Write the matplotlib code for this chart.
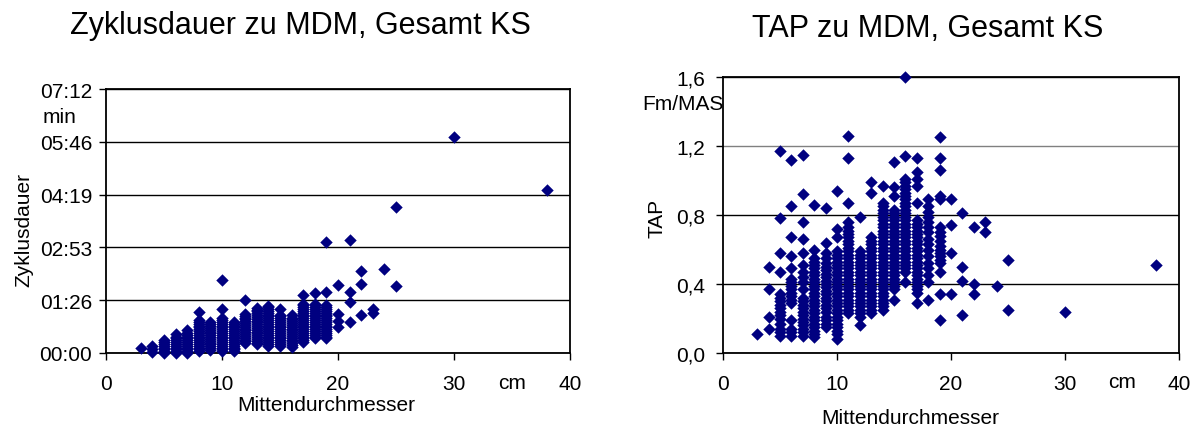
import matplotlib
matplotlib.use("Agg")
import matplotlib.pyplot as plt

plt.rcParams["font.family"] = ["Liberation Sans", "DejaVu Sans"]

# Mittendurchmesser (cm), one entry per column of points
mdm = [3, 4, 5, 6, 7, 8, 9, 10, 11, 12, 13, 14, 15, 16, 17, 18, 19, 20, 21, 22, 23, 24, 25, 30, 38]

# Zyklusdauer in seconds, per diameter
zyklus_sek = [
    [8],
    [2, 6, 11],
    [0, 3, 6, 9, 12, 15, 18, 22],
    [0, 3, 6, 9, 12, 15, 18, 21, 24, 27, 31],
    [0, 3, 6, 9, 12, 15, 18, 21, 24, 27, 30, 33, 37],
    [3, 6, 9, 12, 15, 18, 21, 24, 27, 30, 33, 36, 39, 42, 45, 48, 51, 54, 67],
    [5, 8, 11, 14, 17, 20, 23, 26, 29, 32, 35, 38, 41, 44, 47, 50],
    [3, 6, 9, 12, 15, 18, 21, 24, 27, 30, 33, 36, 39, 42, 45, 48, 51, 54, 57, 72, 120],
    [3, 6, 9, 12, 15, 18, 21, 24, 27, 30, 33, 36, 39, 42, 45, 48, 51],
    [16, 19, 22, 25, 28, 31, 34, 37, 40, 43, 46, 49, 52, 55, 58, 61, 64, 86],
    [14, 17, 20, 23, 26, 29, 32, 35, 38, 41, 44, 47, 50, 53, 56, 59, 62, 65, 68, 71, 74],
    [12, 15, 18, 21, 24, 27, 30, 33, 36, 39, 42, 45, 48, 51, 54, 57, 60, 63, 66, 69, 72, 75, 77],
    [12, 15, 18, 21, 24, 27, 30, 33, 36, 39, 42, 45, 48, 51, 54, 57, 60, 62, 72],
    [10, 13, 16, 19, 22, 25, 28, 31, 34, 37, 40, 43, 46, 49, 52, 55, 58, 62],
    [18, 21, 24, 27, 30, 33, 36, 39, 42, 45, 48, 51, 54, 57, 60, 63, 66, 69, 72, 75, 78, 80, 95],
    [24, 27, 30, 33, 36, 39, 42, 45, 48, 51, 54, 57, 60, 63, 66, 69, 72, 75, 78, 80, 98],
    [24, 27, 30, 33, 36, 39, 42, 45, 48, 51, 54, 57, 60, 63, 66, 69, 72, 75, 78, 100, 182],
    [43, 53, 64, 112],
    [50, 83, 100, 185],
    [62, 113, 135],
    [66, 72],
    [138],
    [109, 239],
    [353],
    [266],
]

# TAP (Fm/MAS), per diameter
tap_werte = [
    [0.11],
    [0.14, 0.21, 0.37, 0.50],
    [0.10, 0.12, 0.14, 0.17, 0.20, 0.22, 0.24, 0.26, 0.28, 0.30, 0.32, 0.34, 0.47, 0.58, 0.78, 1.17],
    [0.10, 0.12, 0.14, 0.19, 0.29, 0.31, 0.33, 0.35, 0.37, 0.39, 0.41, 0.43, 0.49, 0.56, 0.67, 0.85, 1.12],
    [0.10, 0.12, 0.14, 0.16, 0.18, 0.20, 0.22, 0.24, 0.26, 0.28, 0.30, 0.32, 0.37, 0.41, 0.44, 0.47,
     0.51, 0.58, 0.66, 0.76, 0.92, 1.15],
    [0.09, 0.11, 0.13, 0.15, 0.17, 0.19, 0.21, 0.23, 0.25, 0.27, 0.29, 0.31, 0.33, 0.35, 0.37, 0.39,
     0.41, 0.43, 0.45, 0.47, 0.49, 0.51, 0.53, 0.55, 0.60, 0.86],
    [0.15, 0.17, 0.19, 0.21, 0.24, 0.26, 0.28, 0.30, 0.32, 0.34, 0.36, 0.38, 0.40, 0.42, 0.44, 0.46,
     0.48, 0.50, 0.52, 0.55, 0.58, 0.64, 0.84],
    [0.08, 0.11, 0.13, 0.15, 0.17, 0.19, 0.21, 0.23, 0.25, 0.27, 0.29, 0.31, 0.33, 0.35, 0.37, 0.39,
     0.41, 0.43, 0.45, 0.47, 0.49, 0.51, 0.53, 0.55, 0.57, 0.59, 0.67, 0.72, 0.94],
    [0.23, 0.25, 0.27, 0.29, 0.31, 0.33, 0.35, 0.37, 0.39, 0.41, 0.43, 0.45, 0.47, 0.49, 0.51, 0.53,
     0.55, 0.57, 0.59, 0.61, 0.63, 0.65, 0.67, 0.69, 0.71, 0.73, 0.76, 0.87, 1.13, 1.26],
    [0.16, 0.21, 0.23, 0.25, 0.27, 0.29, 0.31, 0.33, 0.35, 0.37, 0.39, 0.41, 0.43, 0.45, 0.47, 0.49,
     0.51, 0.53, 0.55, 0.57, 0.59, 0.79],
    [0.23, 0.25, 0.27, 0.29, 0.31, 0.33, 0.35, 0.37, 0.39, 0.41, 0.43, 0.45, 0.47, 0.49, 0.51, 0.53,
     0.55, 0.57, 0.59, 0.61, 0.63, 0.65, 0.67, 0.93, 0.99],
    [0.25, 0.27, 0.29, 0.31, 0.33, 0.35, 0.37, 0.39, 0.41, 0.43, 0.45, 0.47, 0.49, 0.51, 0.53, 0.55,
     0.57, 0.59, 0.61, 0.63, 0.65, 0.67, 0.69, 0.71, 0.73, 0.75, 0.77, 0.79, 0.81, 0.83, 0.85, 0.87, 0.97],
    [0.31, 0.37, 0.39, 0.41, 0.43, 0.45, 0.47, 0.49, 0.51, 0.53, 0.55, 0.57, 0.59, 0.61, 0.63, 0.65,
     0.67, 0.69, 0.71, 0.73, 0.75, 0.77, 0.79, 0.81, 0.83, 0.91, 0.96, 1.11],
    [0.41, 0.47, 0.49, 0.51, 0.53, 0.55, 0.57, 0.59, 0.61, 0.63, 0.65, 0.67, 0.69, 0.71, 0.73, 0.75,
     0.77, 0.79, 0.81, 0.83, 0.85, 0.87, 0.89, 0.91, 0.93, 0.95, 0.97, 0.99, 1.01, 1.14, 1.60],
    [0.29, 0.35, 0.37, 0.39, 0.41, 0.43, 0.45, 0.47, 0.49, 0.51, 0.53, 0.55, 0.57, 0.59, 0.61, 0.63,
     0.65, 0.67, 0.69, 0.71, 0.73, 0.75, 0.77, 0.87, 0.97, 1.01, 1.05, 1.13],
    [0.31, 0.41, 0.45, 0.49, 0.52, 0.56, 0.60, 0.63, 0.66, 0.70, 0.73, 0.76, 0.79, 0.82, 0.85, 0.89],
    [0.19, 0.34, 0.47, 0.52, 0.54, 0.56, 0.58, 0.60, 0.62, 0.65, 0.68, 0.70, 0.73, 0.89, 0.91, 1.06,
     1.13, 1.25],
    [0.34, 0.58, 0.74, 0.89],
    [0.22, 0.42, 0.50, 0.81],
    [0.34, 0.40, 0.73],
    [0.70, 0.76],
    [0.39],
    [0.25, 0.54],
    [0.24],
    [0.51],
]

zeit_ticks = [0, 86.4, 172.8, 259.2, 345.6, 432]
zeit_labels = ["00:00", "01:26", "02:53", "04:19", "05:46", "07:12"]
tap_ticks = [0, 0.4, 0.8, 1.2, 1.6]
tap_labels = ["0,0", "0,4", "0,8", "1,2", "1,6"]
x_ticks = [0, 10, 20, 30, 40]

farbe = "#000080"
fs = 15

fig = plt.figure(figsize=(11.92, 4.27), dpi=100)
ax1 = fig.add_axes([106 / 1192, 73 / 427, 464 / 1192, 264 / 427])
ax2 = fig.add_axes([723 / 1192, 73 / 427, 456 / 1192, 276 / 427])


def punkte(werte):
    xs, ys = [], []
    for d, col in zip(mdm, werte):
        for v in col:
            xs.append(d)
            ys.append(v)
    return xs, ys


x1, y1 = punkte(zyklus_sek)
ax1.scatter(x1, y1, marker="D", s=40, color=farbe, linewidths=0, zorder=3, clip_on=False)
x2, y2 = punkte(tap_werte)
ax2.scatter(x2, y2, marker="D", s=40, color=farbe, linewidths=0, zorder=3, clip_on=False)

ax1.set_xlim(0, 40)
ax1.set_ylim(0, 432)
ax1.set_yticks(zeit_ticks)
ax1.set_yticklabels(zeit_labels)
ax2.set_xlim(0, 40)
ax2.set_ylim(0, 1.6)
ax2.set_yticks(tap_ticks)
ax2.set_yticklabels(tap_labels)

for ax in (ax1, ax2):
    ax.set_xticks(x_ticks)
    ax.yaxis.grid(True, color="black", linewidth=1)
    ax.set_axisbelow(True)
    for sp in ax.spines.values():
        sp.set_linewidth(1.3)
        sp.set_color("black")
    ax.tick_params(labelsize=fs, length=5, width=1, direction="out", colors="black")
    ax.tick_params(axis="x", pad=10)

ax1.tick_params(axis="y", pad=5)
ax2.tick_params(axis="y", pad=8)
ax2.get_ygridlines()[3].set_color("#808080")

fig.text(300 / 1192, 1 - 34 / 427, "Zyklusdauer zu MDM, Gesamt KS", fontsize=22, ha="center", va="baseline")
fig.text(928 / 1192, 1 - 37 / 427, "TAP zu MDM, Gesamt KS", fontsize=22, ha="center", va="baseline")

ax1.set_ylabel("Zyklusdauer", fontsize=fs)
ax1.yaxis.set_label_coords(-0.156, 0.47)
ax2.set_ylabel("TAP", fontsize=fs)
ax2.yaxis.set_label_coords(-0.125, 0.49)

ax1.set_xlabel("Mittendurchmesser", fontsize=fs)
ax1.xaxis.set_label_coords(0.475, -0.16)
ax2.set_xlabel("Mittendurchmesser", fontsize=fs)
ax2.xaxis.set_label_coords(0.41, -0.2)

ax1.text(-0.1, 0.895, "min", transform=ax1.transAxes, fontsize=fs, ha="center", va="center")
ax2.text(-0.087, 0.905, "Fm/MAS", transform=ax2.transAxes, fontsize=fs, ha="center", va="center")
ax1.text(35, -0.11, "cm", transform=ax1.get_xaxis_transform(), fontsize=fs, ha="center", va="center")
ax2.text(35, -0.105, "cm", transform=ax2.get_xaxis_transform(), fontsize=fs, ha="center", va="center")

fig.savefig("out.png", dpi=100)
